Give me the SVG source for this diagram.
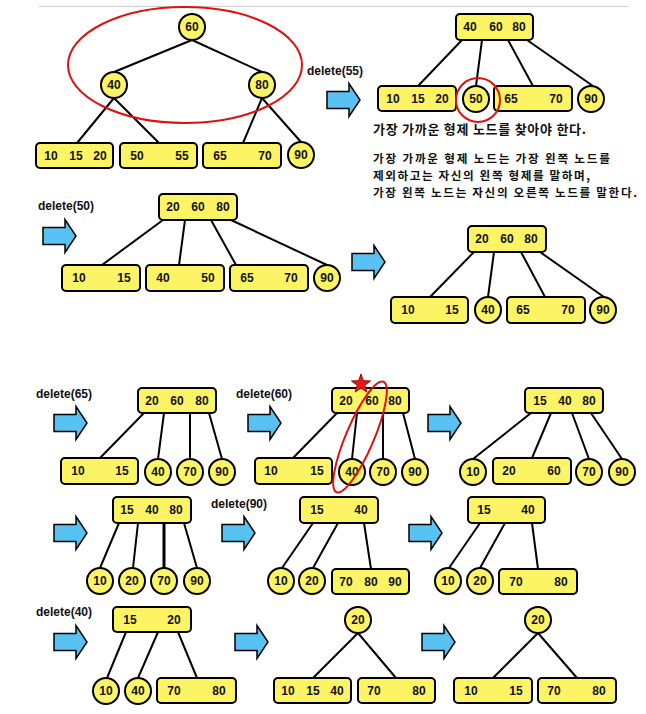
<svg xmlns="http://www.w3.org/2000/svg" xmlns:xlink="http://www.w3.org/1999/xlink" width="646" height="714" viewBox="0 0 646 714">
<style>
.n circle,.n rect{fill:#fdf465;stroke:#000;stroke-width:2}
.n text{font-family:"Liberation Sans",Arial,sans-serif;font-weight:bold;font-size:12px;text-anchor:middle;fill:#111}
.lbl{font-family:"Liberation Sans",Arial,sans-serif;font-weight:bold;font-size:12px;fill:#111}
.kr{font-family:"Noto Sans CJK KR",sans-serif;font-weight:bold;font-size:13px;fill:#111}
.kr2{font-family:"Noto Sans CJK KR",sans-serif;font-weight:bold;font-size:11.6px;fill:#111}
.c path{stroke:#000;stroke-width:2;fill:none}
.ar{fill:#58c2f2;stroke:#000;stroke-width:1.5;stroke-linejoin:miter}
.red{fill:none;stroke:#e01010;stroke-width:2}
</style>
<defs>
<path id="arr" class="ar" d="M0,-8.5 H22 V-16.5 L33,0 L22,16.5 V8.5 H0 Z"/>
</defs>
<rect width="646" height="714" fill="#fff"/>
<line x1="39" y1="6.5" x2="628" y2="6.5" stroke="#cfcfcf" stroke-width="1"/>

<g id="connectors" class="c">
<path d="M192 40L114 72M192 40L262 72M114 98L77 143M114 98L159 143M262 98L243 143M262 98L301 142"/>
<path d="M462 40L418 86M482 40L476 86M508 40L533 86M527 40L593 86"/>
<path d="M163 220L102 265M185 220L179 265M211 220L236 265M231 220L327 265"/>
<path d="M474 252L430 297M494 252L488 297M521 252L545 297M540 252L604 297"/>
<path d="M144 413L100 458M164 413L158 459M190 413L190 459M209 413L222 459"/>
<path d="M337 413L293 458M357 413L352 459M383 413L383 459M403 413L415 459"/>
<path d="M531 413L473 459M551 413L532 458M572 413L589 459M591 413L622 459"/>
<path d="M119 523L100 568M138 523L133 568M184 523L197 568"/>
<path d="M164 523L164 568" style="stroke-width:3"/>
<path d="M313 523L282 568M338 523L313 568M364 523L371 569"/>
<path d="M480 523L449 568M505 523L480 568M532 523L538 569"/>
<path d="M126 632L107 678M158 632L138 678M178 632L197 678"/>
<path d="M358 633L313 678M358 633L396 678"/>
<path d="M538 633L493 678M538 633L577 678"/>
</g>

<g id="arrows">
<use xlink:href="#arr" href="#arr" x="327" y="100"/>
<use xlink:href="#arr" href="#arr" x="43" y="236"/>
<use xlink:href="#arr" href="#arr" x="352" y="262"/>
<use xlink:href="#arr" href="#arr" x="54" y="423"/>
<use xlink:href="#arr" href="#arr" x="248" y="423"/>
<use xlink:href="#arr" href="#arr" x="428" y="423"/>
<use xlink:href="#arr" href="#arr" x="54" y="533"/>
<use xlink:href="#arr" href="#arr" x="222" y="533"/>
<use xlink:href="#arr" href="#arr" x="409" y="533"/>
<use xlink:href="#arr" href="#arr" x="54" y="642"/>
<use xlink:href="#arr" href="#arr" x="235" y="642"/>
<use xlink:href="#arr" href="#arr" x="422" y="642"/>
</g>

<g id="labels">
<text class="lbl" x="307" y="75">delete(55)</text>
<text class="lbl" x="38" y="210">delete(50)</text>
<text class="lbl" x="36" y="398">delete(65)</text>
<text class="lbl" x="236" y="398">delete(60)</text>
<text class="lbl" x="211" y="508">delete(90)</text>
<text class="lbl" x="36" y="616">delete(40)</text>
<text class="kr" x="373" y="134" textLength="213">가장 가까운 형제 노드를 찾아야 한다.</text>
<text class="kr2" x="373" y="163" textLength="237">가장 가까운 형제 노드는 가장 왼쪽 노드를</text>
<text class="kr2" x="373" y="180" textLength="217">제외하고는 자신의 왼쪽 형제를 말하며,</text>
<text class="kr2" x="373" y="197" textLength="264">가장 왼쪽 노드는 자신의 오른쪽 노드를 말한다.</text>
</g>

<!-- Tree 1 -->
<g id="t1-60" class="n"><circle cx="192" cy="27" r="13"/><text x="192" y="31">60</text></g>
<g id="t1-40" class="n"><circle cx="114" cy="85" r="13"/><text x="114" y="89">40</text></g>
<g id="t1-80" class="n"><circle cx="262" cy="85" r="13"/><text x="262" y="89">80</text></g>
<g id="t1-a" class="n"><rect x="36" y="143" width="77" height="25" rx="4"/><text x="51" y="160">10</text><text x="76" y="160">15</text><text x="100" y="160">20</text></g>
<g id="t1-b" class="n"><rect x="120" y="143" width="77" height="25" rx="4"/><text x="137" y="160">50</text><text x="182" y="160">55</text></g>
<g id="t1-c" class="n"><rect x="203" y="143" width="78" height="25" rx="4"/><text x="220" y="160">65</text><text x="265" y="160">70</text></g>
<g id="t1-90" class="n"><circle cx="301" cy="155" r="13"/><text x="301" y="159">90</text></g>

<!-- Tree 2 -->
<g id="t2-root" class="n"><rect x="456" y="14" width="77" height="26" rx="4"/><text x="470" y="31">40</text><text x="496" y="31">60</text><text x="519" y="31">80</text></g>
<g id="t2-a" class="n"><rect x="378" y="86" width="78" height="25" rx="4"/><text x="393" y="103">10</text><text x="418" y="103">15</text><text x="442" y="103">20</text></g>
<g id="t2-50" class="n"><circle cx="476" cy="99" r="13"/><text x="476" y="103">50</text></g>
<g id="t2-c" class="n"><rect x="494" y="86" width="78" height="25" rx="4"/><text x="511" y="103">65</text><text x="556" y="103">70</text></g>
<g id="t2-90" class="n"><circle cx="591" cy="99" r="13"/><text x="591" y="103">90</text></g>

<!-- Tree 3 -->
<g id="t3-root" class="n"><rect x="159" y="194" width="78" height="26" rx="4"/><text x="173" y="211">20</text><text x="198" y="211">60</text><text x="223" y="211">80</text></g>
<g id="t3-a" class="n"><rect x="62" y="265" width="78" height="26" rx="4"/><text x="79" y="282">10</text><text x="124" y="282">15</text></g>
<g id="t3-b" class="n"><rect x="146" y="265" width="78" height="26" rx="4"/><text x="163" y="282">40</text><text x="208" y="282">50</text></g>
<g id="t3-c" class="n"><rect x="230" y="265" width="78" height="26" rx="4"/><text x="247" y="282">65</text><text x="291" y="282">70</text></g>
<g id="t3-90" class="n"><circle cx="327" cy="278" r="13"/><text x="327" y="282">90</text></g>

<!-- Tree 4 -->
<g id="t4-root" class="n"><rect x="468" y="226" width="78" height="26" rx="4"/><text x="482" y="243">20</text><text x="507" y="243">60</text><text x="531" y="243">80</text></g>
<g id="t4-a" class="n"><rect x="391" y="297" width="77" height="26" rx="4"/><text x="408" y="314">10</text><text x="452" y="314">15</text></g>
<g id="t4-40" class="n"><circle cx="488" cy="310" r="13"/><text x="488" y="314">40</text></g>
<g id="t4-c" class="n"><rect x="507" y="297" width="78" height="26" rx="4"/><text x="523" y="314">65</text><text x="568" y="314">70</text></g>
<g id="t4-90" class="n"><circle cx="603" cy="310" r="13"/><text x="603" y="314">90</text></g>

<!-- Tree 5 -->
<g id="t5-root" class="n"><rect x="138" y="388" width="78" height="25" rx="4"/><text x="152" y="405">20</text><text x="177" y="405">60</text><text x="202" y="405">80</text></g>
<g id="t5-a" class="n"><rect x="61" y="458" width="77" height="26" rx="4"/><text x="78" y="475">10</text><text x="122" y="475">15</text></g>
<g id="t5-40" class="n"><circle cx="158" cy="472" r="13"/><text x="158" y="476">40</text></g>
<g id="t5-70" class="n"><circle cx="190" cy="472" r="13"/><text x="190" y="476">70</text></g>
<g id="t5-90" class="n"><circle cx="222" cy="472" r="13"/><text x="222" y="476">90</text></g>

<!-- Tree 6 -->
<g id="t6-root" class="n"><rect x="332" y="388" width="77" height="25" rx="4"/><text x="346" y="405">20</text><text x="372" y="405">60</text><text x="395" y="405">80</text></g>
<g id="t6-a" class="n"><rect x="255" y="458" width="77" height="26" rx="4"/><text x="271" y="475">10</text><text x="317" y="475">15</text></g>
<g id="t6-40" class="n"><circle cx="352" cy="472" r="13"/><text x="352" y="476">40</text></g>
<g id="t6-70" class="n"><circle cx="383" cy="472" r="13"/><text x="383" y="476">70</text></g>
<g id="t6-90" class="n"><circle cx="415" cy="472" r="13"/><text x="415" y="476">90</text></g>

<!-- Tree 7 -->
<g id="t7-root" class="n"><rect x="525" y="388" width="78" height="25" rx="4"/><text x="540" y="405">15</text><text x="565" y="405">40</text><text x="589" y="405">80</text></g>
<g id="t7-10" class="n"><circle cx="473" cy="472" r="13"/><text x="473" y="476">10</text></g>
<g id="t7-b" class="n"><rect x="493" y="458" width="78" height="26" rx="4"/><text x="509" y="475">20</text><text x="554" y="475">60</text></g>
<g id="t7-70" class="n"><circle cx="589" cy="472" r="13"/><text x="589" y="476">70</text></g>
<g id="t7-90" class="n"><circle cx="622" cy="472" r="13"/><text x="622" y="476">90</text></g>

<!-- Tree 8 -->
<g id="t8-root" class="n"><rect x="113" y="497" width="78" height="26" rx="4"/><text x="127" y="514">15</text><text x="152" y="514">40</text><text x="176" y="514">80</text></g>
<g id="t8-10" class="n"><circle cx="100" cy="581" r="13"/><text x="100" y="585">10</text></g>
<g id="t8-20" class="n"><circle cx="132" cy="581" r="13"/><text x="132" y="585">20</text></g>
<g id="t8-70" class="n"><circle cx="164" cy="581" r="13"/><text x="164" y="585">70</text></g>
<g id="t8-90" class="n"><circle cx="197" cy="581" r="13"/><text x="197" y="585">90</text></g>

<!-- Tree 9 -->
<g id="t9-root" class="n"><rect x="300" y="497" width="78" height="26" rx="4"/><text x="317" y="514">15</text><text x="361" y="514">40</text></g>
<g id="t9-10" class="n"><circle cx="281" cy="581" r="13"/><text x="281" y="585">10</text></g>
<g id="t9-20" class="n"><circle cx="312" cy="581" r="13"/><text x="312" y="585">20</text></g>
<g id="t9-c" class="n"><rect x="332" y="569" width="77" height="25" rx="4"/><text x="346" y="586">70</text><text x="371" y="586">80</text><text x="395" y="586">90</text></g>

<!-- Tree 10 -->
<g id="t10-root" class="n"><rect x="468" y="497" width="77" height="26" rx="4"/><text x="484" y="514">15</text><text x="528" y="514">40</text></g>
<g id="t10-10" class="n"><circle cx="448" cy="581" r="13"/><text x="448" y="585">10</text></g>
<g id="t10-20" class="n"><circle cx="480" cy="581" r="13"/><text x="480" y="585">20</text></g>
<g id="t10-c" class="n"><rect x="499" y="569" width="78" height="25" rx="4"/><text x="516" y="586">70</text><text x="561" y="586">80</text></g>

<!-- Tree 11 -->
<g id="t11-root" class="n"><rect x="113" y="607" width="78" height="25" rx="4"/><text x="130" y="624">15</text><text x="174" y="624">20</text></g>
<g id="t11-10" class="n"><circle cx="106" cy="691" r="13"/><text x="106" y="695">10</text></g>
<g id="t11-40" class="n"><circle cx="138" cy="691" r="13"/><text x="138" y="695">40</text></g>
<g id="t11-c" class="n"><rect x="157" y="678" width="79" height="25" rx="4"/><text x="174" y="695">70</text><text x="219" y="695">80</text></g>

<!-- Tree 12 -->
<g id="t12-20" class="n"><circle cx="358" cy="620" r="13"/><text x="358" y="624">20</text></g>
<g id="t12-a" class="n"><rect x="274" y="678" width="77" height="25" rx="4"/><text x="288" y="695">10</text><text x="313" y="695">15</text><text x="337" y="695">40</text></g>
<g id="t12-b" class="n"><rect x="358" y="678" width="77" height="25" rx="4"/><text x="374" y="695">70</text><text x="419" y="695">80</text></g>

<!-- Tree 13 -->
<g id="t13-20" class="n"><circle cx="538" cy="620" r="13"/><text x="538" y="624">20</text></g>
<g id="t13-a" class="n"><rect x="454" y="678" width="78" height="25" rx="4"/><text x="471" y="695">10</text><text x="516" y="695">15</text></g>
<g id="t13-b" class="n"><rect x="538" y="678" width="78" height="25" rx="4"/><text x="554" y="695">70</text><text x="599" y="695">80</text></g>

<g id="highlights">
<ellipse class="red" cx="185" cy="65" rx="117" ry="58"/>
<circle class="red" cx="478" cy="100" r="22"/>
<ellipse class="red" cx="360" cy="437" rx="14" ry="60" transform="rotate(23 360 437)"/>
<polygon transform="translate(361 384)" fill="#e81818" stroke="#a00000" stroke-width="1" points="0,-10 2.35,-3.24 9.51,-3.09 3.8,1.24 5.88,8.09 0,4 -5.88,8.09 -3.8,1.24 -9.51,-3.09 -2.35,-3.24"/>
</g>
</svg>
